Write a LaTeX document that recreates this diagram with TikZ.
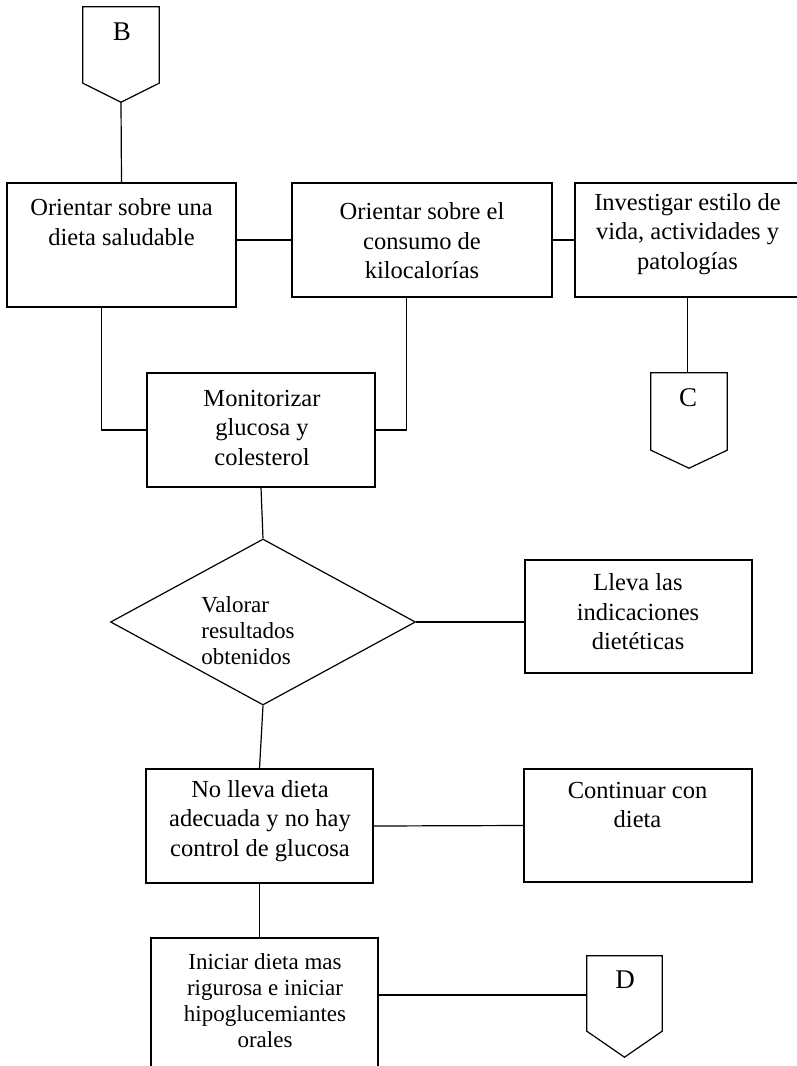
\documentclass[tikz,border=0pt]{standalone}
\usepackage{fontspec}
\setmainfont{Liberation Serif}
\usetikzlibrary{shapes.geometric}
\begin{document}
\begin{tikzpicture}[x=1pt,y=-1pt,
  box/.style={draw, rectangle, line width=1.2pt, inner sep=0pt},
  txt/.style={align=center, inner sep=0pt, font=\fontsize{24.5}{29.5}\selectfont},
  smalltxt/.style={align=center, inner sep=0pt, font=\fontsize{23}{26}\selectfont},
  conn/.style={line width=1.2pt},
  offpage/.style={inner sep=0pt, minimum width=76pt, minimum height=95pt},
  letter/.style={inner sep=0pt, font=\fontsize{27}{30}\selectfont}
]
\fill[white] (0,0) rectangle (796,1066);
\useasboundingbox (0,0) rectangle (796,1066);

% off-page connector B
\node[offpage] (B) at (121,54.5) {};
\draw[conn] (B.north west) -- (B.north east) -- ([yshift=19pt]B.south east) -- (B.south) -- ([yshift=19pt]B.south west) -- cycle;
\node[letter] (Bt) at (122,32) {B};

% top row
\node[box, minimum width=229pt, minimum height=124pt] (b1) at (121.5,245) {};
\node[txt] (b1t) at (121.5,222) {Orientar sobre una\\dieta saludable};

\node[box, minimum width=260pt, minimum height=114pt] (b2) at (422,240) {};
\node[txt] (b2t) at (422,241) {Orientar sobre el\\consumo de\\kilocalorías};

\node[box, minimum width=225pt, minimum height=114pt] (b3) at (687.5,240) {};
\node[txt] (b3t) at (687.5,234) {Investigar estilo de\\vida, actividades y\\patologías};

% off-page connector C
\node[offpage] (C) at (689,420.5) {};
\draw[conn] (C.north west) -- (C.north east) -- ([yshift=18pt]C.south east) -- (C.south) -- ([yshift=18pt]C.south west) -- cycle;
\node[letter] (Ct) at (688,398) {C};

% monitor
\node[box, minimum width=228pt, minimum height=114pt] (mon) at (261,430) {};
\node[txt] (mont) at (262,428) {Monitorizar\\glucosa y\\colesterol};

% decision
\node[draw, diamond, line width=1.2pt, inner sep=0pt, minimum width=305pt, minimum height=166pt] (dia) at (263,622) {};
\node[smalltxt, align=left] (diat) at (248,631) {Valorar\\resultados\\obtenidos};

\node[box, minimum width=227pt, minimum height=113pt] (lle) at (638.5,616.5) {};
\node[txt] (llet) at (638,612) {Lleva las\\indicaciones\\dietéticas};

\node[box, minimum width=227pt, minimum height=114pt] (nol) at (259.5,826) {};
\node[txt] (nolt) at (260,821) {No lleva dieta\\adecuada y no hay\\control de glucosa};

\node[box, minimum width=228pt, minimum height=113pt] (con) at (638,825.5) {};
\node[txt] (cont) at (637.5,805) {Continuar con\\dieta};

\node[box, minimum width=227pt, minimum height=142pt] (ini) at (264.5,1009) {};
\node[smalltxt] (init) at (265,1001) {Iniciar dieta mas\\rigurosa e iniciar\\hipoglucemiantes\\orales};

% off-page connector D
\node[offpage, minimum width=75pt, minimum height=101pt] (D) at (624.5,1006.5) {};
\draw[conn] (D.north west) -- (D.north east) -- ([yshift=26pt]D.south east) -- (D.south) -- ([yshift=26pt]D.south west) -- cycle;
\node[letter] (Dt) at (625,980) {D};
\coordinate (dj) at ([yshift=11.5pt]D.west);

% connectors
\draw[conn] (B.south) -- (b1.north);
\draw[conn] (b1.east |- b2.west) -- (b2.west);
\draw[conn] (b2.east) -- (b3.west);
\draw[conn] (b3.south) -- (b3.south |- C.north);
\draw[conn] ([xshift=95pt]b1.south west) -- ([xshift=95pt]b1.south west |- mon.west) -- (mon.west);
\draw[conn] ([xshift=115pt]b2.south west) -- ([xshift=115pt]b2.south west |- mon.east) -- (mon.east);
\draw[conn] (mon.south) -- (dia.north);
\draw[conn] (dia.east) -- (lle.west |- dia.east);
\draw[conn] (dia.south) -- (nol.north);
\draw[conn] (nol.east) -- (con.west);
\draw[conn] (nol.south) -- (nol.south |- ini.north);
\draw[conn] (ini.east |- dj) -- (dj);
\end{tikzpicture}
\end{document}
